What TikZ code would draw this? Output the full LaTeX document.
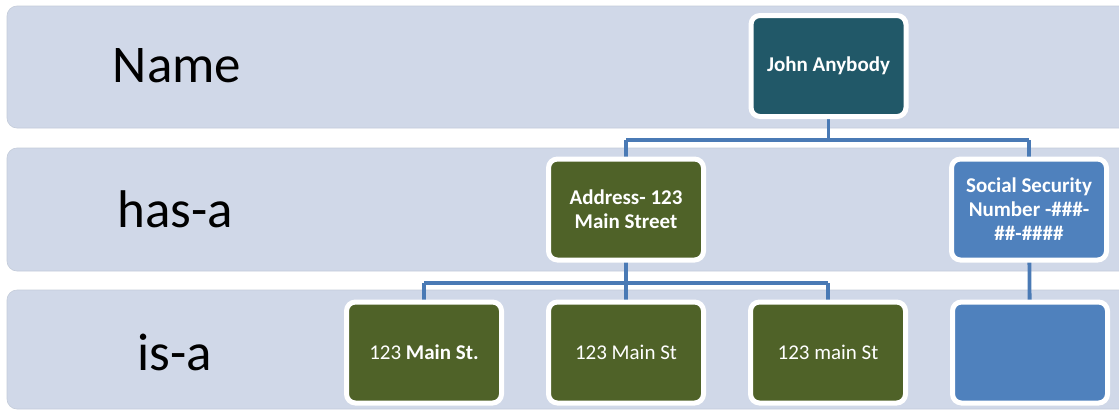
\documentclass[tikz,border=0pt]{standalone}
\usepackage{fontspec}
\setmainfont{Carlito}
\definecolor{bandfill}{HTML}{D0D8E8}
\definecolor{bandline}{HTML}{C4CCDA}
\definecolor{teal}{HTML}{215868}
\definecolor{olive}{HTML}{4F6228}
\definecolor{steel}{HTML}{4F81BD}
\definecolor{conn}{HTML}{4A7AB5}
\begin{document}
\begin{tikzpicture}[x=1pt,y=-1pt,
  band/.style={fill=bandfill,draw=bandline,line width=0.6pt,rounded corners=10pt},
  bandlabel/.style={font=\fontsize{53}{60}\selectfont,text=black},
  box/.style={draw=white,line width=5pt,rounded corners=9pt,minimum width=155pt,minimum height=101pt,
    text=white,align=center,font=\fontsize{21}{24}\selectfont,inner sep=2pt},
  link/.style={draw=conn,line width=3.8pt}]
\useasboundingbox (0,0) rectangle (1119,410);
\fill[white] (0,0) rectangle (1119,410);
% bands
\path[band] (7,6) rectangle (1135,128);
\path[band] (7,148) rectangle (1135,271);
\path[band] (7,290) rectangle (1135,409);
\node[bandlabel] (lname) at (177,66) {Name};
\node[bandlabel] (lhas) at (175,209) {has-a};
\node[bandlabel] (lis) at (175,352) {is-a};
% connector junctions
\coordinate (j1) at (828.5,140);
\coordinate (j2) at (626,283);
% node positions
\coordinate (pJ) at (828.5,66);
\coordinate (pA) at (626,209.5);
\coordinate (pS) at (1029,209.5);
\coordinate (p1) at (424,352.5);
\coordinate (p2) at (626,352.5);
\coordinate (p3) at (828,352.5);
\coordinate (p4) at (1030,352.5);
% connectors drawn first (behind boxes)
\draw[link] (pJ) -- (j1);
\draw[link] (pA |- j1) -- (pS |- j1);
\draw[link] (pA |- j1) -- (pA);
\draw[link] (pS |- j1) -- (pS);
\draw[link] (pA) -- (j2);
\draw[link] (p1 |- j2) -- (p3 |- j2);
\draw[link] (p1 |- j2) -- (p1);
\draw[link] (p2 |- j2) -- (p2);
\draw[link] (p3 |- j2) -- (p3);
\draw[link] (pS) -- (p4);
% boxes
\node[box,fill=teal] (john) at (pJ) {\bfseries John Anybody};
\node[box,fill=olive] (addr) at (pA) {\bfseries Address- 123\\\bfseries Main Street};
\node[box,fill=steel] (ssn) at (pS) {\bfseries Social Security\\\bfseries Number -\#\#\#-\\\bfseries \#\#-\#\#\#\#};
\node[box,fill=olive] (s1) at (p1) {123 \textbf{Main St.}};
\node[box,fill=olive] (s2) at (p2) {123 Main St};
\node[box,fill=olive] (s3) at (p3) {123 main St};
\node[box,fill=steel] (s4) at (p4) {};
\end{tikzpicture}
\end{document}
